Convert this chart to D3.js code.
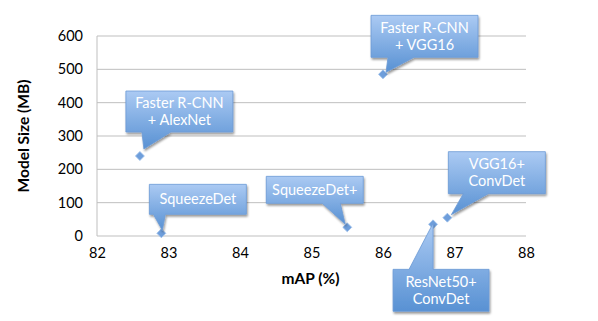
<!DOCTYPE html>
<html>
<head>
<meta charset="utf-8">
<script src="https://cdn.jsdelivr.net/npm/d3@7"></script>
<style>
  body { margin: 0; background: #fff; }
  text { font-family: Lato, "Open Sans", sans-serif; }
</style>
</head>
<body>
<script>
// data
const models = ["Faster R-CNN\n+ AlexNet", "SqueezeDet", "SqueezeDet+", "Faster R-CNN\n+ VGG16", "ResNet50+\nConvDet", "VGG16+\nConvDet"];
const mAP = [82.6, 82.9, 85.5, 86.0, 86.7, 86.9];
const sizeMB = [240, 8, 26, 485, 35, 55];
const xTicks = [82, 83, 84, 85, 86, 87, 88];
const yTicks = [0, 100, 200, 300, 400, 500, 600];

// callout layout, pixels relative to the point: box [dx, dy, w, h], tail base [x0, x1] from box left, tip offset
const callouts = [
  { box: [-14, -65, 107, 41], base: [16, 45], tip: [4, -7] },
  { box: [-12, -49, 97, 30], base: [4, 16], tip: [1, -3] },
  { box: [-81, -51, 97, 27], base: [56, 74], tip: [-2, -3] },
  { box: [-12, -59, 107, 42], base: [17, 43], tip: [3, -2] },
  { box: [-40, 45, 96, 42], base: [16, 40], tip: [0, -1] },
  { box: [1, -66, 97, 42], base: [15, 40], tip: [4, -3] }
];

const W = 598, H = 321;
const margin = { top: 36, right: 72, bottom: 85, left: 97 };

const svg = d3.select("body").append("svg")
  .attr("width", W).attr("height", H);

const defs = svg.append("defs");
const grad = defs.append("linearGradient").attr("id", "boxGrad")
  .attr("x1", 0).attr("y1", 0).attr("x2", 0).attr("y2", 1);
grad.append("stop").attr("offset", "0%").attr("stop-color", "#abcaf3");
grad.append("stop").attr("offset", "100%").attr("stop-color", "#5891d3");
defs.append("filter").attr("id", "shadow")
  .attr("x", "-20%").attr("y", "-20%").attr("width", "140%").attr("height", "150%")
  .append("feDropShadow")
  .attr("dx", 1).attr("dy", 2).attr("stdDeviation", 1.3)
  .attr("flood-color", "#000").attr("flood-opacity", 0.4);

const x = d3.scaleLinear().domain([82, 88]).range([margin.left, W - margin.right]);
const y = d3.scaleLinear().domain([0, 600]).range([H - margin.bottom, margin.top]);

// gridlines
svg.append("g")
  .selectAll("line")
  .data(yTicks)
  .join("line")
    .attr("x1", x(82)).attr("x2", x(88))
    .attr("y1", d => y(d)).attr("y2", d => y(d))
    .attr("stroke", "#bfbfbf").attr("stroke-width", 1);

// y axis line
svg.append("line")
  .attr("x1", x(82)).attr("x2", x(82))
  .attr("y1", y(0)).attr("y2", y(600))
  .attr("stroke", "#bfbfbf");

const yAxis = svg.append("g")
  .attr("transform", `translate(${x(82)},0)`)
  .call(d3.axisLeft(y).tickValues(yTicks).tickSize(0).tickPadding(14));
yAxis.select(".domain").remove();
yAxis.selectAll("text").attr("font-size", 14.5).attr("fill", "#000")
  .style("font-family", "Lato, sans-serif");

const xAxis = svg.append("g")
  .attr("transform", `translate(0,${y(0)})`)
  .call(d3.axisBottom(x).tickValues(xTicks).tickFormat(d3.format("d")).tickSize(0).tickPadding(12));
xAxis.select(".domain").remove();
xAxis.selectAll("text").attr("font-size", 14.5).attr("fill", "#000")
  .style("font-family", "Lato, sans-serif");

svg.append("text")
  .attr("x", (x(82) + x(88)) / 2 - 1).attr("y", 284)
  .attr("text-anchor", "middle")
  .attr("font-size", 15.5).attr("font-weight", "bold")
  .text("mAP (%)");

svg.append("text")
  .attr("transform", `translate(29,${(y(0) + y(600)) / 2}) rotate(-90)`)
  .attr("text-anchor", "middle")
  .attr("font-size", 15.5).attr("font-weight", "bold")
  .text("Model Size (MB)");

// points
svg.append("g")
  .selectAll("path")
  .data(mAP)
  .join("path")
    .attr("d", d3.symbol(d3.symbolSquare, 40))
    .attr("transform", (d, i) => `translate(${x(d)},${y(sizeMB[i])}) rotate(45)`)
    .attr("fill", "#6e9edb")
    .attr("stroke", "#9dbfea").attr("stroke-width", 0.8);

// callouts
function calloutPath(px, py, c) {
  const [dx, dy, w, h] = c.box;
  const l = px + dx, t = py + dy, r = l + w, b = t + h;
  const tx = px + c.tip[0], ty = py + c.tip[1];
  const p = d3.path();
  if (ty > b) {
    p.moveTo(l, t); p.lineTo(r, t); p.lineTo(r, b);
    p.lineTo(l + c.base[1], b); p.lineTo(tx, ty); p.lineTo(l + c.base[0], b);
    p.lineTo(l, b); p.closePath();
  } else {
    p.moveTo(l, t);
    p.lineTo(l + c.base[0], t); p.lineTo(tx, ty); p.lineTo(l + c.base[1], t);
    p.lineTo(r, t); p.lineTo(r, b); p.lineTo(l, b); p.closePath();
  }
  return p.toString();
}

const labels = svg.append("g")
  .selectAll("g")
  .data(models)
  .join("g");

labels.append("path")
  .attr("d", (d, i) => calloutPath(x(mAP[i]), y(sizeMB[i]), callouts[i]))
  .attr("fill", "url(#boxGrad)")
  .attr("stroke", "#6c9bd6").attr("stroke-width", 0.8)
  .attr("filter", "url(#shadow)");

labels.each(function(d, i) {
  const c = callouts[i];
  const cx = x(mAP[i]) + c.box[0] + c.box[2] / 2;
  const cy = y(sizeMB[i]) + c.box[1] + c.box[3] / 2;
  const lines = d.split("\n");
  const lh = 17.5;
  const t = d3.select(this).append("text")
    .attr("text-anchor", "middle")
    .attr("font-size", 14.5).attr("fill", "#fff");
  lines.forEach((s, k) => {
    t.append("tspan")
      .attr("x", cx)
      .attr("y", cy + (k - (lines.length - 1) / 2) * lh + 5)
      .text(s);
  });
});
</script>
</body>
</html>
